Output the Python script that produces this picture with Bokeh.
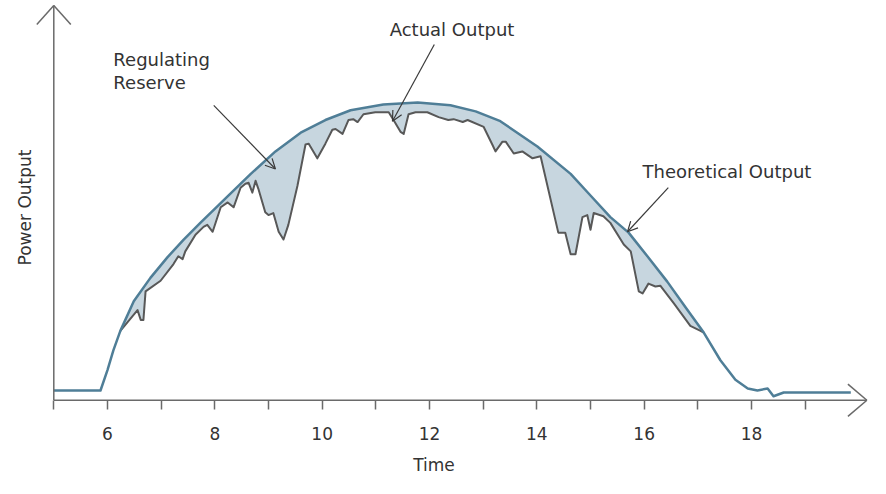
import numpy as np
from bokeh.plotting import figure
from bokeh.models import Range1d, FixedTicker, Arrow, OpenHead, Label
from bokeh.embed import file_html
from bokeh.resources import INLINE

# ---------------- data ----------------
hour_ticks = [5, 6, 7, 8, 9, 10, 11, 12, 13, 14, 15, 16, 17, 18, 19]
hour_tick_labels = ["", "6", "", "8", "", "10", "", "12", "", "14", "", "16", "", "18", ""]

theoretical_x = [5.00, 5.87, 6.00, 6.11, 6.24, 6.49, 6.80, 7.12, 7.42, 7.73, 8.20, 8.67,
                 9.13, 9.60, 10.06, 10.53, 11.14, 11.78, 12.39, 12.86, 13.32, 14.01,
                 14.63, 15.00, 15.37, 15.71, 16.06, 16.43, 16.77, 17.11, 17.42, 17.70,
                 17.93, 18.11, 18.30, 18.41, 18.60, 19.85]
theoretical_y = [0.000, 0.000, 0.071, 0.139, 0.207, 0.310, 0.391, 0.463, 0.524, 0.582, 0.667, 0.752,
                 0.830, 0.895, 0.939, 0.973, 0.993, 1.000, 0.990, 0.969, 0.935, 0.847,
                 0.752, 0.677, 0.602, 0.548, 0.466, 0.378, 0.289, 0.201, 0.105, 0.037,
                 0.007, 0.000, 0.007, -0.020, -0.007, -0.007]

actual_x = [6.24, 6.56, 6.62, 6.67, 6.71, 6.99, 7.23, 7.32, 7.40, 7.45, 7.64, 7.79, 7.86, 7.96,
            8.11, 8.24, 8.35, 8.48, 8.57, 8.63, 8.70, 8.76, 8.81, 8.94, 9.00, 9.09, 9.19, 9.28,
            9.37, 9.54, 9.69, 9.75, 9.91, 10.06, 10.19, 10.25, 10.38, 10.49, 10.58, 10.66,
            10.77, 10.99, 11.24, 11.33, 11.46, 11.52, 11.61, 11.74, 11.96, 12.17, 12.35, 12.45,
            12.62, 12.71, 13.01, 13.17, 13.23, 13.36, 13.42, 13.57, 13.73, 13.92, 14.07, 14.40,
            14.53, 14.63, 14.72, 14.85, 14.94, 15.00, 15.06, 15.24, 15.37, 15.62, 15.75, 15.90,
            15.97, 16.08, 16.21, 16.30, 16.55, 16.86, 17.05, 17.11]
actual_y = [0.207, 0.279, 0.245, 0.245, 0.344, 0.381, 0.439, 0.466, 0.456, 0.483, 0.541, 0.568, 0.575, 0.551,
            0.636, 0.653, 0.636, 0.704, 0.718, 0.721, 0.687, 0.728, 0.701, 0.619, 0.609, 0.616, 0.551, 0.524,
            0.575, 0.711, 0.854, 0.857, 0.806, 0.857, 0.905, 0.908, 0.891, 0.939, 0.942, 0.932,
            0.959, 0.966, 0.966, 0.939, 0.898, 0.891, 0.959, 0.966, 0.966, 0.949, 0.939, 0.942,
            0.932, 0.939, 0.915, 0.854, 0.830, 0.864, 0.864, 0.823, 0.830, 0.806, 0.813, 0.548,
            0.548, 0.473, 0.473, 0.602, 0.609, 0.558, 0.616, 0.605, 0.582, 0.507, 0.483, 0.344,
            0.337, 0.371, 0.361, 0.364, 0.303, 0.224, 0.207, 0.201]

# ---------------- style ----------------
FONT = "DejaVu Sans"
TEXT_COLOR = "#333333"
AXIS_COLOR = "#6a6a6a"
THEO_COLOR = "#4f7e97"
ACT_COLOR = "#585858"
FILL_COLOR = "#c7d6df"

X_RANGE = (4.007, 20.217)
Y_RANGE = (-0.3056, 1.354)
X_AXIS_AT = -0.034      # where the time axis crosses
Y_AXIS_AT = 5.0         # where the power axis crosses
X_TIP = 20.15
Y_TIP = 1.337
X_LABEL_END = 19.17     # axis extent used to centre "Time"
Y_LABEL_END = 1.304     # axis extent used to centre "Power Output"

p = figure(width=870, height=478, output_backend="svg", toolbar_location=None,
           x_range=Range1d(*X_RANGE), y_range=Range1d(*Y_RANGE),
           min_border_left=0, min_border_right=0, min_border_top=0, min_border_bottom=0)
p.xgrid.visible = False
p.ygrid.visible = False
p.outline_line_color = None
p.background_fill_color = "white"
p.border_fill_color = "white"

# regulating reserve area (between theoretical and actual)
tx = np.array(theoretical_x)
ty = np.array(theoretical_y)
mask = (tx >= actual_x[0]) & (tx <= actual_x[-1])
poly_x = list(tx[mask]) + actual_x[::-1]
poly_y = list(ty[mask]) + actual_y[::-1]
p.patch(poly_x, poly_y, fill_color=FILL_COLOR, line_color=None)

p.line(actual_x, actual_y, line_color=ACT_COLOR, line_width=2, line_join="round")
p.line(theoretical_x, theoretical_y, line_color=THEO_COLOR, line_width=2.5, line_join="round")

# x axis (ticks, labels, title); its line is drawn below as one arrow
xa = p.xaxis[0]
xa.fixed_location = X_AXIS_AT
xa.ticker = FixedTicker(ticks=hour_ticks)
xa.major_label_overrides = dict(zip(hour_ticks, hour_tick_labels))
xa.bounds = (Y_AXIS_AT, X_LABEL_END)
xa.axis_line_color = None
xa.major_tick_line_color = AXIS_COLOR
xa.major_tick_line_width = 1.5
xa.major_tick_in = 0
xa.major_tick_out = 9
xa.minor_tick_line_color = None
xa.major_label_text_font = FONT
xa.major_label_text_font_size = "17px"
xa.major_label_text_color = TEXT_COLOR
xa.major_label_standoff = 18
xa.axis_label = "Time"
xa.axis_label_text_font = FONT
xa.axis_label_text_font_size = "17px"
xa.axis_label_text_font_style = "normal"
xa.axis_label_text_color = TEXT_COLOR
xa.axis_label_standoff = 11

# y axis
ya = p.yaxis[0]
ya.fixed_location = Y_AXIS_AT
ya.ticker = FixedTicker(ticks=[])
ya.bounds = (X_AXIS_AT, Y_LABEL_END)
ya.axis_line_color = None
ya.major_tick_line_color = None
ya.minor_tick_line_color = None
ya.major_label_standoff = 0
ya.axis_label = "Power Output"
ya.axis_label_text_font = FONT
ya.axis_label_text_font_size = "17px"
ya.axis_label_text_font_style = "normal"
ya.axis_label_text_color = TEXT_COLOR
ya.axis_label_standoff = 19

# axis lines with open arrow heads
p.add_layout(Arrow(end=None, x_start=Y_AXIS_AT, y_start=X_AXIS_AT, x_end=X_TIP, y_end=X_AXIS_AT,
                   line_color=AXIS_COLOR, line_width=1.5))
p.add_layout(Arrow(end=None, x_start=Y_AXIS_AT, y_start=X_AXIS_AT, x_end=Y_AXIS_AT, y_end=Y_TIP,
                   line_color=AXIS_COLOR, line_width=1.5))
ARM_X_BACK, ARM_X_LAT = 0.354, 0.056   # x axis tip
ARM_Y_LAT, ARM_Y_BACK = 0.317, 0.066   # y axis tip
for sgn in (1, -1):
    p.add_layout(Arrow(end=None, x_start=X_TIP, y_start=X_AXIS_AT,
                       x_end=X_TIP - ARM_X_BACK, y_end=X_AXIS_AT + sgn * ARM_X_LAT,
                       line_color=AXIS_COLOR, line_width=1.5))
    p.add_layout(Arrow(end=None, x_start=Y_AXIS_AT, y_start=Y_TIP,
                       x_end=Y_AXIS_AT + sgn * ARM_Y_LAT, y_end=Y_TIP - ARM_Y_BACK,
                       line_color=AXIS_COLOR, line_width=1.5))

# annotations
def label(x, y, text, align="left"):
    p.add_layout(Label(x=x, y=y, text=text, text_font=FONT, text_font_size="18px",
                       text_color=TEXT_COLOR, text_align=align, text_baseline="middle"))

def pointer(x0, y0, x1, y1):
    p.add_layout(Arrow(end=OpenHead(size=10, line_color="#3a3a3a", line_width=1.2),
                       x_start=x0, y_start=y0, x_end=x1, y_end=y1,
                       line_color="#3a3a3a", line_width=1.2))

label(6.11, 1.148, "Regulating")
label(6.11, 1.068, "Reserve")
label(12.42, 1.252, "Actual Output", align="center")
label(15.97, 0.762, "Theoretical Output")

pointer(7.98, 0.990, 9.13, 0.769)
pointer(12.09, 1.201, 11.31, 0.935)
pointer(16.45, 0.704, 15.69, 0.551)

open("out.html", "w").write(file_html(p, INLINE))
